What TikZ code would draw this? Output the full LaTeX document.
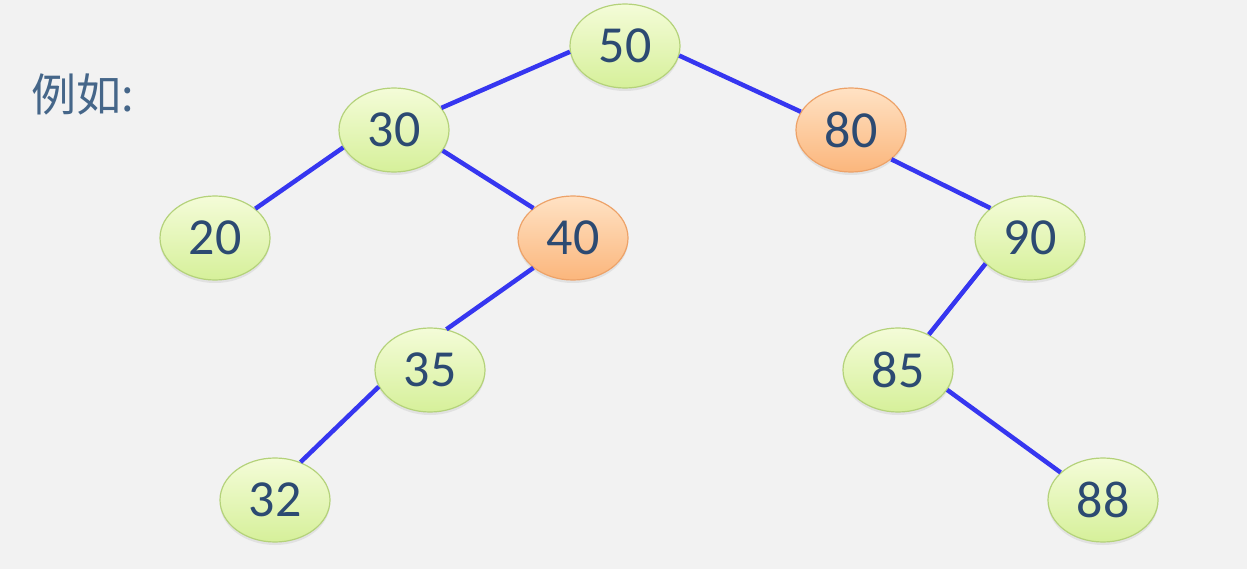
\documentclass[tikz,border=0pt]{standalone}
\usepackage{fontspec}
\setmainfont{Carlito}
\newfontfamily\cjk{Noto Sans CJK SC}
\usetikzlibrary{shapes.geometric,shadows}
\definecolor{bg}{HTML}{F2F2F2}
\definecolor{txt}{HTML}{2C4A72}
\definecolor{lbl}{HTML}{456689}
\definecolor{edgeblue}{HTML}{3636F0}
\definecolor{gtop}{HTML}{F4FCD8}
\definecolor{gbot}{HTML}{D6F09A}
\definecolor{gbord}{HTML}{B4D27A}
\definecolor{otop}{HTML}{FFE2C4}
\definecolor{obot}{HTML}{FBB67C}
\definecolor{obord}{HTML}{EDA268}
\tikzset{
  tnode/.style={ellipse, minimum width=110pt, minimum height=84pt, inner sep=0pt,
    text=txt, font=\fontsize{52}{54}\selectfont, line width=1.2pt,
    drop shadow={shadow xshift=0pt, shadow yshift=-3pt, opacity=0.15}},
  gnode/.style={tnode, draw=gbord, top color=gtop, bottom color=gbot},
  onode/.style={tnode, draw=obord, top color=otop, bottom color=obot},
  edge/.style={draw=edgeblue, line width=4.5pt}
}
\begin{document}
\begin{tikzpicture}[x=1pt,y=-1pt]
\fill[bg] (0,0) rectangle (1247,569);
\useasboundingbox (0,0) rectangle (1247,569);
\node[anchor=west, text=lbl, font=\cjk\fontsize{45}{47}\selectfont, inner sep=0pt] (ex) at (31,94) {例如:};
\node[gnode] (n50) at (625,46) {50};
\node[gnode] (n30) at (394,130) {30};
\node[onode] (n80) at (851,130) {80};
\node[gnode] (n20) at (215,238) {20};
\node[onode] (n40) at (573,238) {40};
\node[gnode] (n90) at (1030,238) {90};
\node[gnode] (n35) at (430,370) {35};
\node[gnode] (n85) at (898,370) {85};
\node[gnode] (n32) at (275,500) {32};
\node[gnode] (n88) at (1103,500) {88};
\draw[edge] (n50.186) -- (n30.25);
\draw[edge] (n50.350) -- (n80.160);
\draw[edge] (n30.199) -- (n20.36);
\draw[edge] (n30.337) -- (n40.143);
\draw[edge] (n80.324) -- (n90.143);
\draw[edge] (n40.217) -- (n35.68);
\draw[edge] (n90.210) -- (n85.49);
\draw[edge] (n35.198) -- (n32.56);
\draw[edge] (n85.338) -- (n88.147);
\end{tikzpicture}
\end{document}
